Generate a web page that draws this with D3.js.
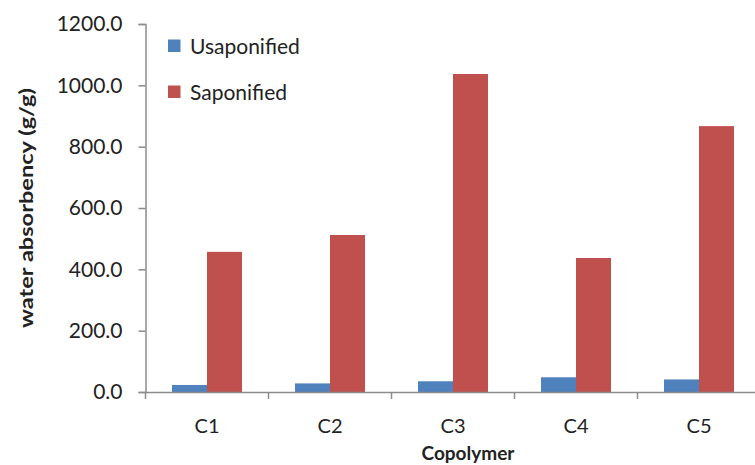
<!DOCTYPE html>
<html>
<head>
<meta charset="utf-8">
<script src="https://cdn.jsdelivr.net/npm/d3@7"></script>
<style>
  html, body { margin: 0; padding: 0; background: #fff; }
  svg { display: block; }
  text { font-family: Lato, "Open Sans", sans-serif; fill: #222; }
</style>
</head>
<body>
<svg id="chart" width="755" height="465"></svg>
<script>
const categories = ["C1", "C2", "C3", "C4", "C5"];
const seriesNames = ["Usaponified", "Saponified"];
const usaponified = [23, 28, 35, 48, 41];
const saponified = [457, 512, 1037, 437, 867];
const yTicks = [0, 200, 400, 600, 800, 1000, 1200];
const colors = ["#4F81BD", "#C0504D"];
const xTitle = "Copolymer";
const yTitle = "water absorbency (g/g)";

const svg = d3.select("#chart");
const axisColor = "#8c8c8c";

const x0 = d3.scaleBand().domain(categories).range([145.5, 760.5]).paddingInner(0).paddingOuter(0);
const x1 = d3.scaleBand().domain(seriesNames).range([0, x0.bandwidth()]).paddingInner(0).paddingOuter(0.757);
const y = d3.scaleLinear().domain([0, 1200]).range([392, 24]);

const values = [usaponified, saponified];

// bars
seriesNames.forEach((s, si) => {
  svg.append("g").selectAll("rect")
    .data(categories.map((c, i) => ({ c, v: values[si][i] })))
    .join("rect")
    .attr("x", d => x0(d.c) + x1(s))
    .attr("y", d => y(d.v))
    .attr("width", x1.bandwidth())
    .attr("height", d => y(0) - y(d.v))
    .attr("fill", colors[si]);
});

// y axis
const yAxis = d3.axisLeft(y).tickValues(yTicks).tickFormat(d3.format(".1f")).tickSize(7).tickPadding(16);
const gy = svg.append("g").attr("transform", `translate(${x0.range()[0]},0)`).call(yAxis);
gy.select(".domain").attr("stroke", axisColor).attr("stroke-width", 1.5);
gy.selectAll(".tick line").attr("stroke", axisColor).attr("stroke-width", 1.5);
gy.selectAll(".tick text").attr("font-size", 21).attr("font-family", "Lato, sans-serif").attr("fill", "#222");

// x axis
const xAxis = d3.axisBottom(x0).tickSize(0).tickPadding(27);
const gx = svg.append("g").attr("transform", `translate(0,${y(0)})`).call(xAxis);
gx.select(".domain").attr("stroke", axisColor).attr("stroke-width", 1.5);
gx.selectAll(".tick text").attr("font-size", 20).attr("font-family", "Lato, sans-serif").attr("fill", "#222");
// category boundary tick marks
gx.append("g").selectAll("line")
  .data(categories.map(c => x0(c)).concat([x0.range()[1]]))
  .join("line")
  .attr("x1", d => d).attr("x2", d => d)
  .attr("y1", 0).attr("y2", 7)
  .attr("stroke", axisColor).attr("stroke-width", 1.5);

// axis titles
svg.append("text")
  .attr("x", 468).attr("y", 460)
  .attr("text-anchor", "middle")
  .attr("font-size", 19).attr("font-weight", "bold")
  .text(xTitle);

svg.append("text")
  .attr("transform", "translate(33,208) rotate(-90)")
  .attr("text-anchor", "middle")
  .attr("font-size", 18).attr("font-weight", "bold")
  .attr("textLength", 240).attr("lengthAdjust", "spacingAndGlyphs")
  .text(yTitle);

// legend
const legend = svg.append("g");
seriesNames.forEach((s, i) => {
  const ly = 45.5 + i * 46;
  legend.append("rect")
    .attr("x", 168).attr("y", ly - 6)
    .attr("width", 12.5).attr("height", 12.5)
    .attr("fill", colors[i]);
  legend.append("text")
    .attr("x", 190).attr("y", ly + 8)
    .attr("font-size", 21)
    .text(s);
});
</script>
</body>
</html>
